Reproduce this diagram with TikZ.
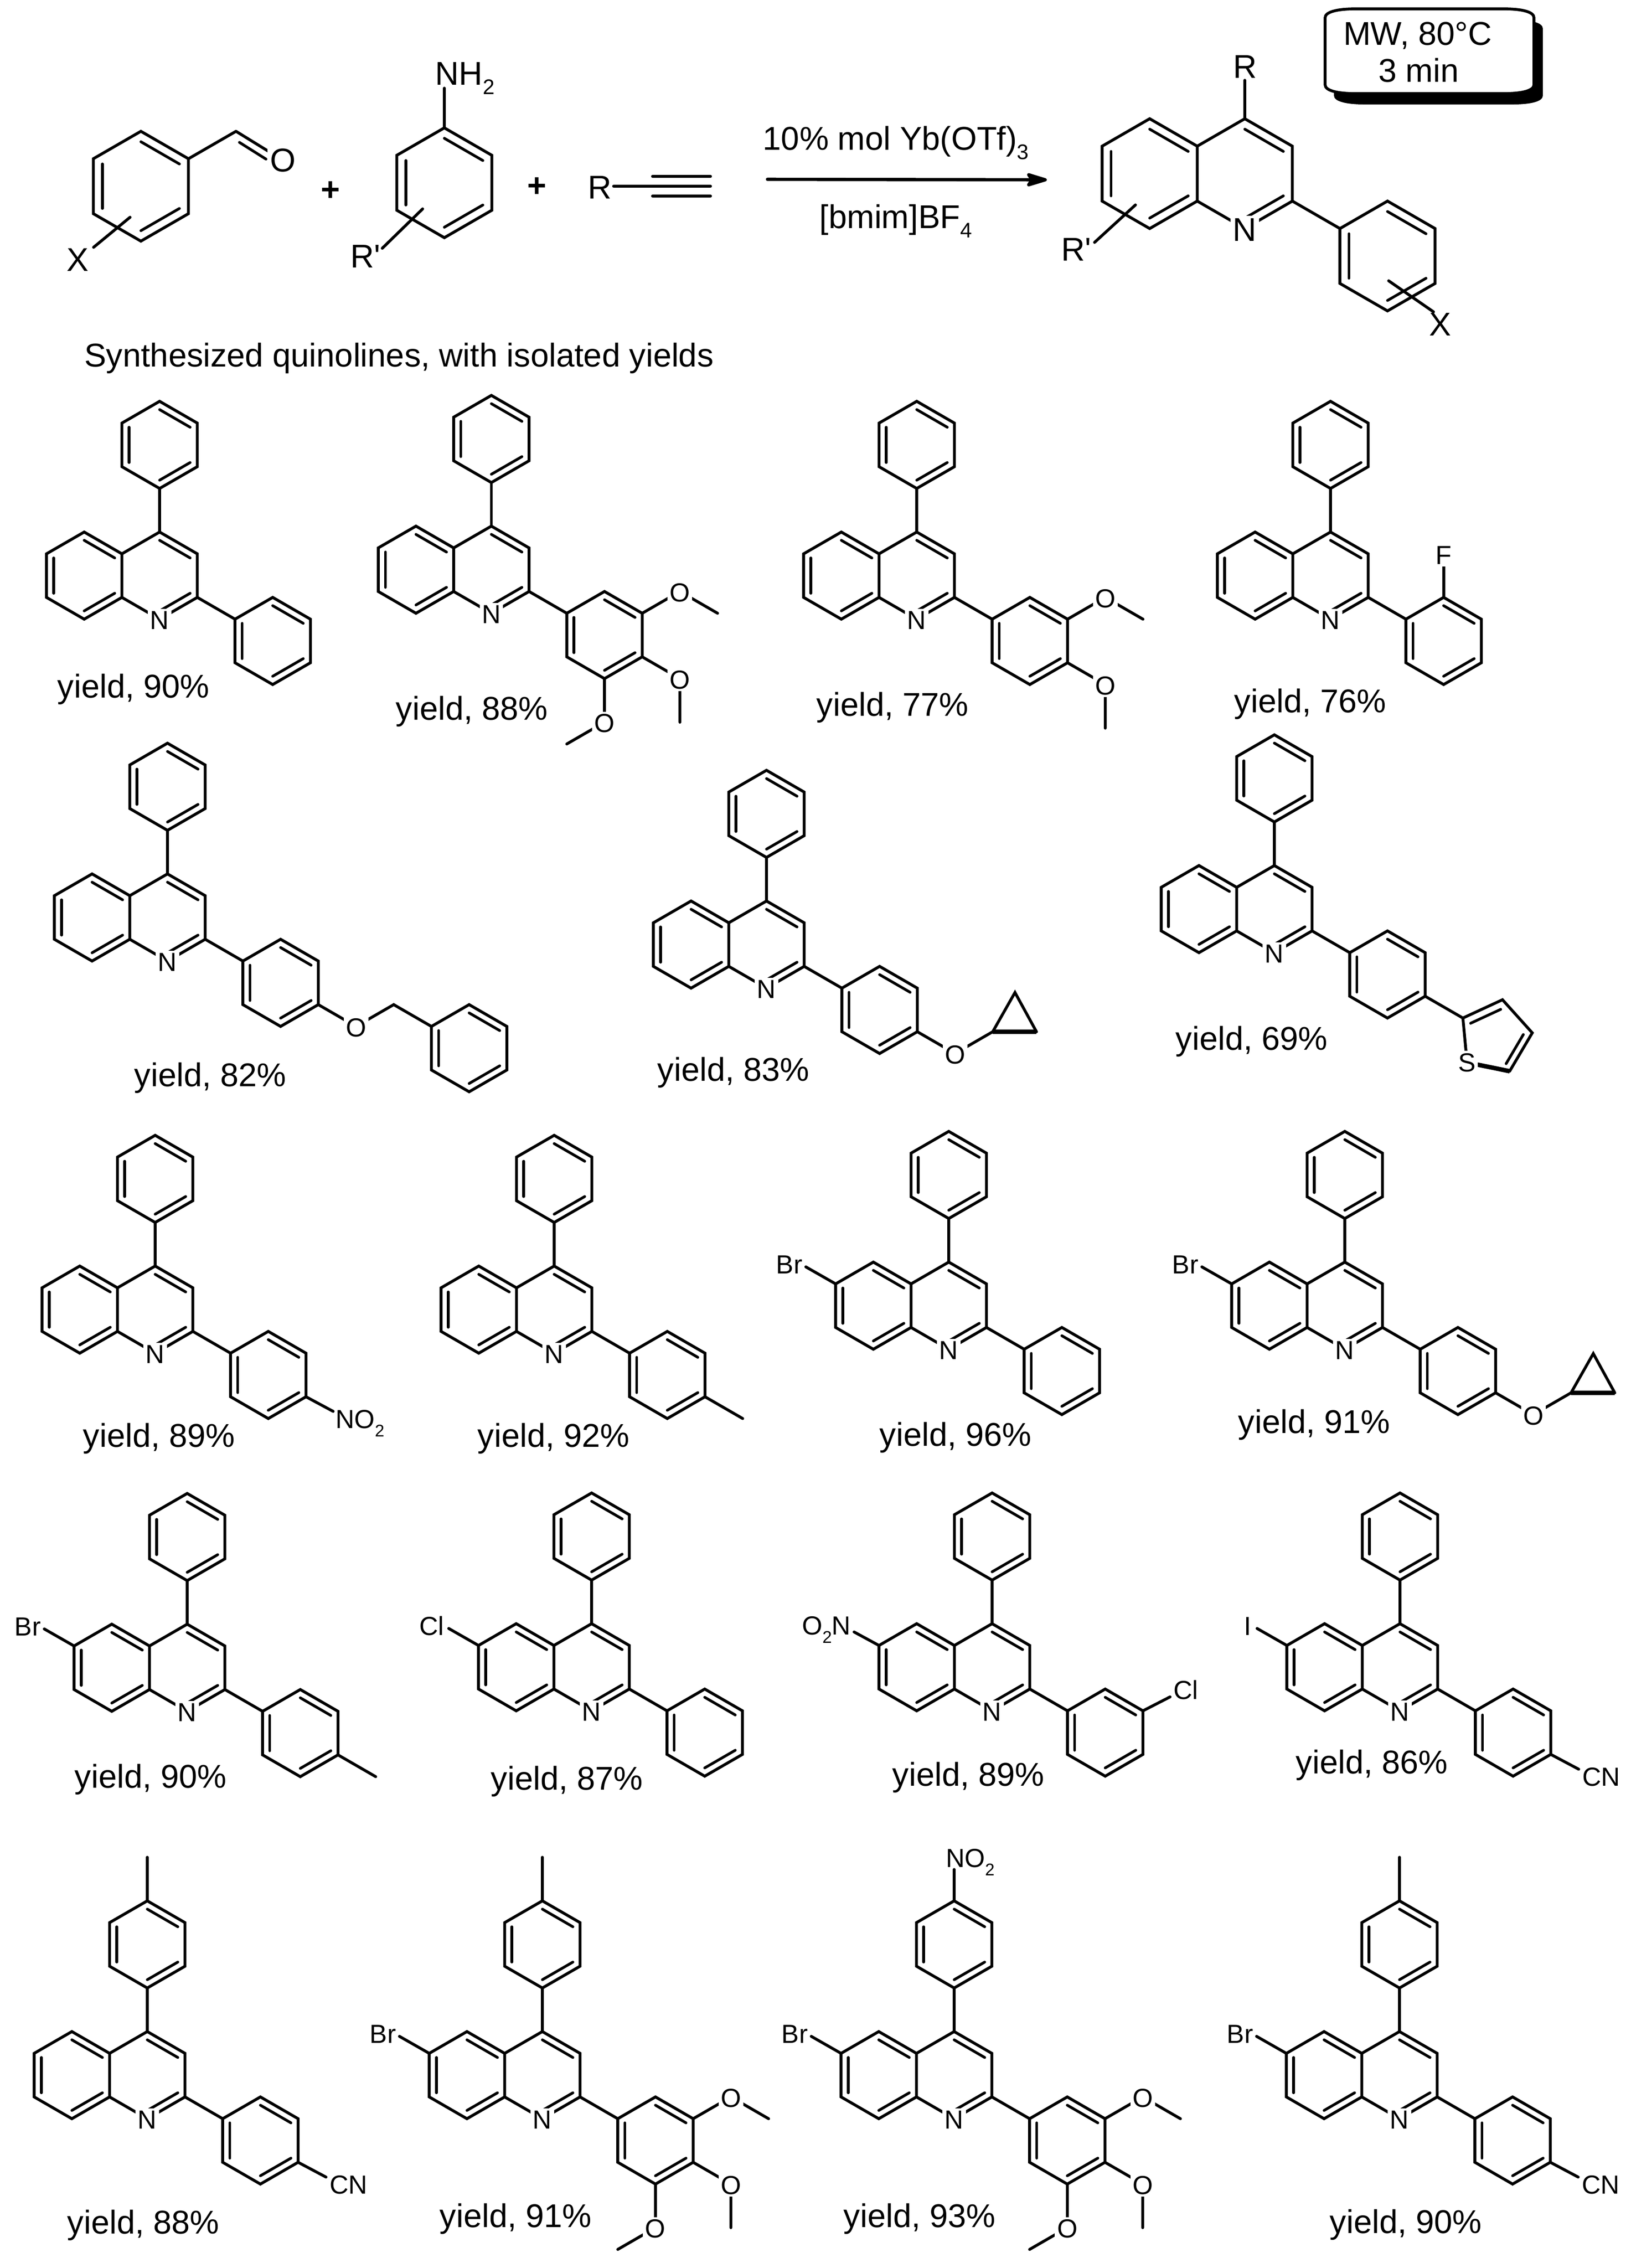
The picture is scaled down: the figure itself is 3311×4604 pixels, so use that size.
\documentclass[tikz,border=0pt]{standalone}
\usepackage{fontspec}
\setmainfont{Liberation Sans}[Ligatures=TeXOff]
\usetikzlibrary{calc,arrows.meta}
\newcommand\fsBig{\fontsize{19}{21}\selectfont}
\newcommand\fsAtom{\fontsize{15.1}{17}\selectfont}
\newcommand\subS[1]{\raisebox{-4.9pt}{\fontsize{9.8}{10}\selectfont #1}}
\newcommand\subL[1]{\raisebox{-5.4pt}{\fontsize{12.2}{13}\selectfont #1}}
\tikzset{
  bond/.style={line width=0.058cm,line join=miter,line cap=round},
  ibond/.style={line width=0.055cm,line cap=round},
  boldbond/.style={line width=0.09cm,line cap=butt},
  heavy/.style={line width=0.066cm,line cap=round},
  atom/.style={font=\fsAtom,fill=white,inner sep=1.3pt},
  biglab/.style={font=\fsBig,inner sep=0pt},
  biglabw/.style={font=\fsBig,fill=white,inner sep=1.5pt},
  yl/.style={font=\fsBig,inner sep=0pt,anchor=base},
  mol/.style={x=0.765cm,y=-0.442cm},
  bigmol/.style={x=0.965cm,y=-0.557cm}
}
\newcounter{nd}
\newcommand\atomlab[3][]{\stepcounter{nd}\node[atom,#1] (a\arabic{nd}) at (#2) {#3};}
% double-bond inner line: ends a,b pulled towards ring centre c
\newcommand\dbl[4][0.19]{\draw[ibond] ($(#2)!#1!(#4)$) -- ($(#3)!#1!(#4)$);}
% benzene ring centred on lattice point, double bonds on edges 0,2,4
\newcommand\hexA[2]{%
  \draw[bond] (#1,#2-2) -- (#1+1,#2-1) -- (#1+1,#2+1) -- (#1,#2+2) -- (#1-1,#2+1) -- (#1-1,#2-1) -- cycle;
  \dbl{#1,#2-2}{#1+1,#2-1}{#1,#2}
  \dbl{#1+1,#2+1}{#1,#2+2}{#1,#2}
  \dbl{#1-1,#2+1}{#1-1,#2-1}{#1,#2}
}
% quinoline core with aryl on C2
\newcommand\quincore{%
  \hexA{-2}{2}
  \draw[bond] (-1,1) -- (0,0) -- (1,1) -- (1,3) -- (0,4) -- (-1,3);
  \dbl{0,0}{1,1}{0,2}
  \dbl{1,3}{0,4}{0,2}
  \draw[bond] (1,3) -- (2,4);
  \hexA{3}{5}
}
\newcommand\quin{\quincore\atomlab{0,4.05}{N}}
\newcommand\quinph{\quin\draw[bond] (0,0) -- (0,-2);\hexA{0}{-4}}
\newcommand\omeA{\draw[bond] (4,4) -- (5,3) -- (6,4);\atomlab{5,3.05}{O}}
\newcommand\omeB{\draw[bond] (4,6) -- (5,7) -- (5,9);\atomlab{5,7.05}{O}}
\newcommand\omeC{\draw[bond] (3,7) -- (3,9) -- (2,10);\atomlab{3,9.05}{O}}
\newcommand\coprop{%
  \draw[bond] (4,6) -- (5,7) -- (6,6) -- (6.59,4.2) -- (7.16,6);
  \draw[boldbond] (6,6) -- (7.16,6);
  \atomlab{5,7.05}{O}}
\newcommand\cyano{%
  \draw[bond] (4,6) -- (4.74,6.68);
  \stepcounter{nd}\node[font=\fsAtom,inner sep=0pt,anchor=base west] (a\arabic{nd}) at (4.83,7.45) {CN};}
\newcommand\halo[2]{%
  \draw[bond] (-3,1) -- (-3.79,0.22);
  \stepcounter{nd}\node[font=\fsAtom,inner sep=0pt,anchor=base east] (a\arabic{nd}) at (#1,0.52) {#2};}
\newcommand\tolC{\draw[bond] (0,-6) -- (0,-8);\hexA{0}{-4}\draw[bond] (0,0) -- (0,-2);}
\newcommand\boxpath{(2690,36) .. controls (2690,24) and (2715,18) .. (2752,18) -- (3052,18) .. controls (3090,18) and (3114,24) .. (3114,36) -- (3114,172) .. controls (3114,184) and (3090,190) .. (3052,190) -- (2752,190) .. controls (2715,190) and (2690,184) .. (2690,172) -- cycle}
\begin{document}
\begin{tikzpicture}[x=0.01cm,y=-0.01cm]
\useasboundingbox (0,0) rectangle (3311,4604);

% --- condition box
\fill[shift={(18,22)}] \boxpath;
\draw[bond,fill=white] \boxpath;
\node[yl] (mw) at (2878,91) {MW, 80°C};
\node[yl] (tm) at (2880,166) {3 min};

% --- benzaldehyde
\begin{scope}[shift={(286,378)},bigmol]
  \hexA{0}{0}
  \draw[bond] (1,-1) -- (2,-2) coordinate (cho);
\end{scope}
\draw[bond] (cho) -- (574,325);
\draw[ibond] (486,289) -- (540,323);
\node[biglabw] (oxy) at (574,325) {O};
\draw[bond] (264,441) -- (190,502);
\node[yl] (xa) at (158,550) {X};

% --- aniline
\begin{scope}[shift={(902,371)},bigmol]
  \hexA{0}{0}
\end{scope}
\draw[bond] (902,259) -- (902,179);
\node[font=\fsBig,inner sep=0pt,anchor=base west] (nh) at (883,172) {NH\subL{2}};
\draw[bond] (858,424) -- (776,504);
\node[font=\fsBig,inner sep=0pt,anchor=base west] (rpa) at (711,543) {R'};
\node[font=\fsBig,inner sep=0pt] (pa) at (671,388) {\bfseries +};
\node[font=\fsBig,inner sep=0pt] (pb) at (1090,380) {\bfseries +};

% --- alkyne
\node[yl] (ra) at (1218,403) {R};
\draw[heavy] (1246,378) -- (1442,378);
\draw[heavy] (1325,358) -- (1442,358);
\draw[heavy] (1325,398) -- (1442,398);

% --- arrow
\coordinate (arra) at (1558,364);
\coordinate (arrb) at (2125,365);
\draw[heavy,-{Stealth[round,length=0.52cm,width=0.31cm,inset=0.1cm]}] (arra) -- (arrb);
\node[font=\fsBig,inner sep=0pt,anchor=base west] (cat) at (1548,304) {10\% mol Yb(OTf)\subL{3}};
\node[font=\fsBig,inner sep=0pt,anchor=base west] (sol) at (1663,463) {[bmim]BF\subL{4}};

% --- product
\begin{scope}[shift={(2527,241)},bigmol]
  \quincore
  \node[biglabw,anchor=base] (np) at (0,4.45) {N};
\end{scope}
\draw[bond] (2527,241) -- (2527,163);
\node[yl] (rp) at (2528,158) {R};
\draw[bond] (2305,416) -- (2222,492);
\node[font=\fsBig,inner sep=0pt,anchor=base west] (rpp) at (2154,529) {R'};
\draw[bond] (2819,570) -- (2910,633);
\node[yl] (xp) at (2924,681) {X};

\node[yl] (syn) at (810,744) {Synthesized quinolines, with isolated yields};

% --- row 1
\begin{scope}[shift={(324,1080)},mol] \quinph \end{scope}
\node[yl] (y1) at (271,1416) {yield, 90\%};
\begin{scope}[shift={(997.5,1068)},mol] \quinph \omeA \omeB \omeC \end{scope}
\node[yl] (y2) at (958,1461) {yield, 88\%};
\begin{scope}[shift={(1861,1080)},mol] \quinph \omeA \omeB \end{scope}
\node[yl] (y3) at (1812,1453) {yield, 77\%};
\begin{scope}[shift={(2701,1080)},mol] \quinph \draw[bond] (3,3) -- (3,1.3); \atomlab{3,1.06}{F} \end{scope}
\node[yl] (y4) at (2660,1446) {yield, 76\%};

% --- row 2
\begin{scope}[shift={(340,1774)},mol] \quinph
  \draw[bond] (4,6) -- (5,7) -- (6,6) -- (7,7);
  \hexA{8}{8}
  \atomlab{5,7.05}{O}
\end{scope}
\node[yl] (y5) at (427,2205) {yield, 82\%};
\begin{scope}[shift={(1556,1829)},mol] \quinph \coprop \end{scope}
\node[yl] (y6) at (1489,2194) {yield, 83\%};
\begin{scope}[shift={(2587,1757)},mol] \quinph
  \draw[bond] (4,6) -- (5,7) -- (6.05,6.16) -- (6.84,7.68) -- (6.24,9.44);
  \draw[bond] (5,7) -- (5.11,9.04);
  \draw[boldbond] (6.24,9.44) -- (5.11,9.04);
  \dbl[0.24]{5,7}{6.05,6.16}{5.85,8}
  \dbl[0.24]{6.84,7.68}{6.24,9.44}{5.85,8}
  \atomlab{5.11,9.04}{S}
\end{scope}
\node[yl] (y7) at (2541,2131) {yield, 69\%};

% --- row 3
\begin{scope}[shift={(315,2570)},mol] \quinph
  \draw[bond] (4,6) -- (4.72,6.67);
  \stepcounter{nd}\node[font=\fsAtom,inner sep=0pt,anchor=base west] (a\arabic{nd}) at (4.78,7.45) {NO\subS{2}};
\end{scope}
\node[yl] (y8) at (323,2937) {yield, 89\%};
\begin{scope}[shift={(1125,2570)},mol] \quinph \draw[bond] (4,6) -- (5,7); \end{scope}
\node[yl] (y9) at (1124,2937) {yield, 92\%};
\begin{scope}[shift={(1926,2562)},mol] \quinph \halo{-3.87}{Br} \end{scope}
\node[yl] (y10) at (1940,2935) {yield, 96\%};
\begin{scope}[shift={(2730,2562)},mol] \quinph \halo{-3.87}{Br} \coprop \end{scope}
\node[yl] (y11) at (2668,2909) {yield, 91\%};

% --- row 4
\begin{scope}[shift={(380,3297)},mol] \quinph \halo{-3.87}{Br} \draw[bond] (4,6) -- (5,7); \end{scope}
\node[yl] (y12) at (306,3629) {yield, 90\%};
\begin{scope}[shift={(1201,3296)},mol] \quinph \halo{-3.9}{Cl} \end{scope}
\node[yl] (y13) at (1151,3633) {yield, 87\%};
\begin{scope}[shift={(2014,3296)},mol] \quinph
  \draw[bond] (-3,1) -- (-3.66,0.38);
  \stepcounter{nd}\node[font=\fsAtom,inner sep=0pt,anchor=base east] (a\arabic{nd}) at (-3.74,0.5) {O\subS{2}N};
  \draw[bond] (4,4) -- (4.72,3.36);
  \stepcounter{nd}\node[font=\fsAtom,inner sep=0pt,anchor=base west] (a\arabic{nd}) at (4.8,3.47) {Cl};
\end{scope}
\node[yl] (y14) at (1966,3625) {yield, 89\%};
\begin{scope}[shift={(2842,3296)},mol] \quinph \halo{-3.93}{I} \cyano \end{scope}
\node[yl] (y15) at (2785,3600) {yield, 86\%};

% --- row 5
\begin{scope}[shift={(299,4124)},mol] \quin \tolC \cyano \end{scope}
\node[yl] (y16) at (291,4534) {yield, 88\%};
\begin{scope}[shift={(1101,4124)},mol] \quin \tolC \halo{-3.87}{Br} \omeA \omeB \omeC \end{scope}
\node[yl] (y17) at (1047,4521) {yield, 91\%};
\begin{scope}[shift={(1937,4124)},mol] \quin \draw[bond] (0,0) -- (0,-2);\hexA{0}{-4}
  \draw[bond] (0,-6) -- (0,-7.44);
  \stepcounter{nd}\node[font=\fsAtom,inner sep=0pt,anchor=base west] (a\arabic{nd}) at (-0.23,-7.55) {NO\subS{2}};
  \halo{-3.87}{Br} \omeA \omeB \omeC
\end{scope}
\node[yl] (y18) at (1867,4521) {yield, 93\%};
\begin{scope}[shift={(2841,4124)},mol] \quin \tolC \halo{-3.87}{Br} \cyano \end{scope}
\node[yl] (y19) at (2854,4533) {yield, 90\%};
\end{tikzpicture}
\end{document}
